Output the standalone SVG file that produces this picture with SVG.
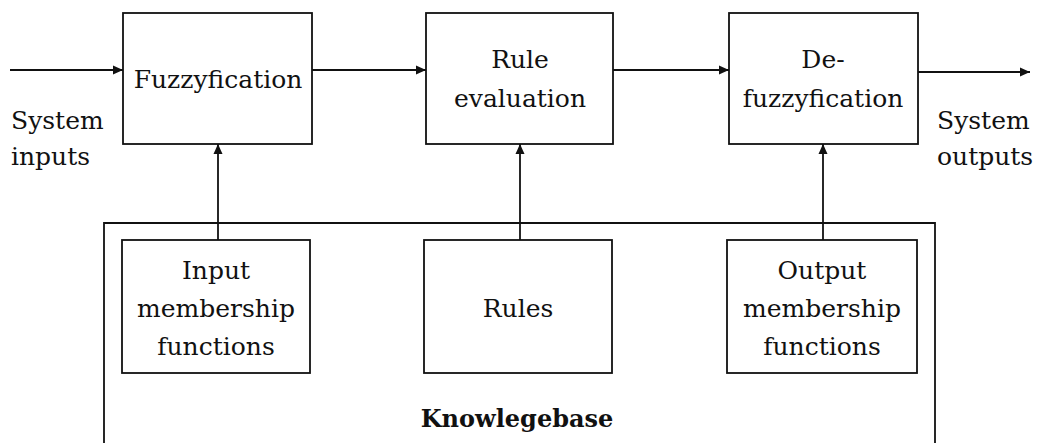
<svg xmlns="http://www.w3.org/2000/svg" width="1037" height="443" viewBox="0 0 1037 443">
<style>
.box{fill:none;stroke:#111;stroke-width:1.8}
.ln{fill:none;stroke:#111;stroke-width:1.8}
.t{font-family:"DejaVu Serif","Liberation Serif",serif;font-size:25px;fill:#111;text-anchor:middle}
.ts{font-family:"DejaVu Serif","Liberation Serif",serif;font-size:25px;fill:#111}
.tb{font-family:"DejaVu Serif","Liberation Serif",serif;font-size:24px;font-weight:bold;fill:#111;text-anchor:middle}
</style>
<defs>
<marker id="ah" viewBox="0 0 10 10" refX="10" refY="5" markerWidth="10" markerHeight="10" markerUnits="userSpaceOnUse" orient="auto">
<path d="M0,0.5 L10,5 L0,9.5 Z" fill="#111"/>
</marker>
</defs>
<rect width="1037" height="443" fill="#fff"/>
<g id="knowledgebase">
<path class="box" d="M104,450 V223 H935 V450"/>
<text class="tb" x="517" y="427">Knowlegebase</text>
</g>
<g id="fuzzyfication">
<rect class="box" x="123" y="13" width="189" height="131"/>
<text class="t" x="218" y="88">Fuzzyfication</text>
</g>
<g id="rule-evaluation">
<rect class="box" x="426" y="13" width="187" height="131"/>
<text class="t" x="520" y="68">Rule</text>
<text class="t" x="520" y="107">evaluation</text>
</g>
<g id="defuzzyfication">
<rect class="box" x="729" y="13" width="189" height="131"/>
<text class="t" x="823" y="68">De-</text>
<text class="t" x="823" y="107">fuzzyfication</text>
</g>
<g id="input-mf">
<rect class="box" x="122" y="240" width="188" height="133"/>
<text class="t" x="216" y="279">Input</text>
<text class="t" x="216" y="317">membership</text>
<text class="t" x="216" y="355">functions</text>
</g>
<g id="rules">
<rect class="box" x="424" y="240" width="188" height="133"/>
<text class="t" x="518" y="317">Rules</text>
</g>
<g id="output-mf">
<rect class="box" x="727" y="240" width="190" height="133"/>
<text class="t" x="822" y="279">Output</text>
<text class="t" x="822" y="317">membership</text>
<text class="t" x="822" y="355">functions</text>
</g>
<g id="system-inputs">
<text class="ts" x="11" y="129">System</text>
<text class="ts" x="11" y="165">inputs</text>
</g>
<g id="system-outputs">
<text class="ts" x="937" y="129">System</text>
<text class="ts" x="937" y="165">outputs</text>
</g>
<g id="connectors">
<line class="ln" x1="10" y1="70" x2="123" y2="70" marker-end="url(#ah)"/>
<line class="ln" x1="312" y1="70" x2="426" y2="70" marker-end="url(#ah)"/>
<line class="ln" x1="613" y1="70" x2="729" y2="70" marker-end="url(#ah)"/>
<line class="ln" x1="918" y1="72" x2="1030" y2="72" marker-end="url(#ah)"/>
<line class="ln" x1="218" y1="240" x2="218" y2="144" marker-end="url(#ah)"/>
<line class="ln" x1="520" y1="240" x2="520" y2="144" marker-end="url(#ah)"/>
<line class="ln" x1="823" y1="240" x2="823" y2="144" marker-end="url(#ah)"/>
</g>
</svg>
